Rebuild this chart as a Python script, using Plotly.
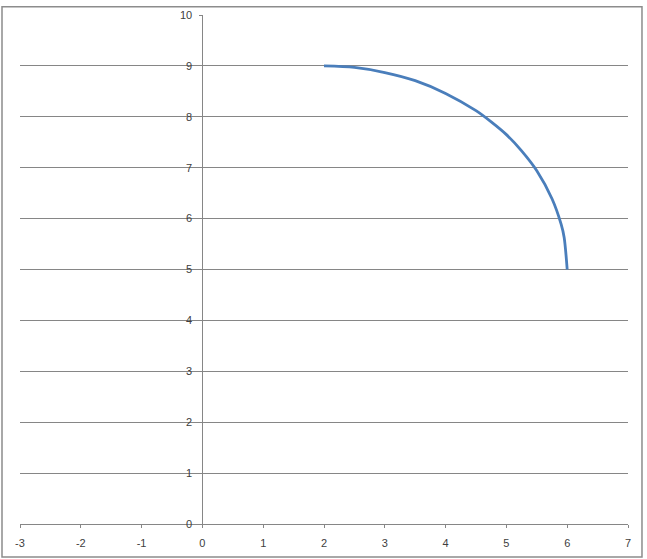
import plotly.graph_objects as go

# points (quarter circle from (2,9) down to (6,5))
x_vals = [2.0, 2.5, 3.0, 3.5, 4.0, 4.5, 4.75, 5.0, 5.25, 5.5, 5.75, 5.9, 5.95, 6.0]
y_vals = [9.0, 8.97, 8.87, 8.71, 8.46, 8.12, 7.9, 7.65, 7.33, 6.94, 6.39, 5.89, 5.63, 5.0]

x_ticks = [-3, -2, -1, 0, 1, 2, 3, 4, 5, 6, 7]
x_tick_labels = ['-3', '-2', '-1', '0', '1', '2', '3', '4', '5', '6', '7']
y_ticks = [0, 1, 2, 3, 4, 5, 6, 7, 8, 9, 10]

axis_grey = '#868686'
text_grey = '#404040'

fig = go.Figure()
fig.add_trace(go.Scatter(
    x=x_vals, y=y_vals,
    mode='lines',
    line=dict(color='#4A7EBB', width=2.8, shape='spline', smoothing=0.8),
    showlegend=False,
))

fig.update_layout(
    width=647, height=559,
    margin=dict(l=20, r=19, t=9, b=35),
    paper_bgcolor='white',
    plot_bgcolor='white',
    font=dict(family='Liberation Sans, Arial, sans-serif', size=11, color=text_grey),
    xaxis=dict(
        range=[-3, 7], tickvals=x_ticks, ticktext=x_tick_labels,
        showgrid=False, zeroline=False,
        showline=True, linecolor=axis_grey, linewidth=1,
        ticks='outside', ticklen=3, tickcolor=axis_grey,
        ticklabelstandoff=6,
    ),
    yaxis=dict(
        range=[0, 10], tickvals=y_ticks,
        anchor='free', position=0.3,
        showgrid=True, gridcolor=axis_grey, gridwidth=1,
        zeroline=False,
        showline=True, linecolor=axis_grey, linewidth=1,
        ticks='outside', ticklen=3, tickcolor=axis_grey,
        ticklabelstandoff=5,
    ),
    shapes=[dict(
        type='rect', xref='paper', yref='paper',
        x0=-0.0296, x1=1.0230, y0=-0.0650, y1=1.0160,
        line=dict(color='#8c8c8c', width=1.5),
        fillcolor='rgba(0,0,0,0)', layer='below',
    )],
)

# drop the page's default body margin so the chart sits at the window corner
fig.write_html('out.html', config={'displayModeBar': False},
               post_script="document.body.style.margin='0';")
